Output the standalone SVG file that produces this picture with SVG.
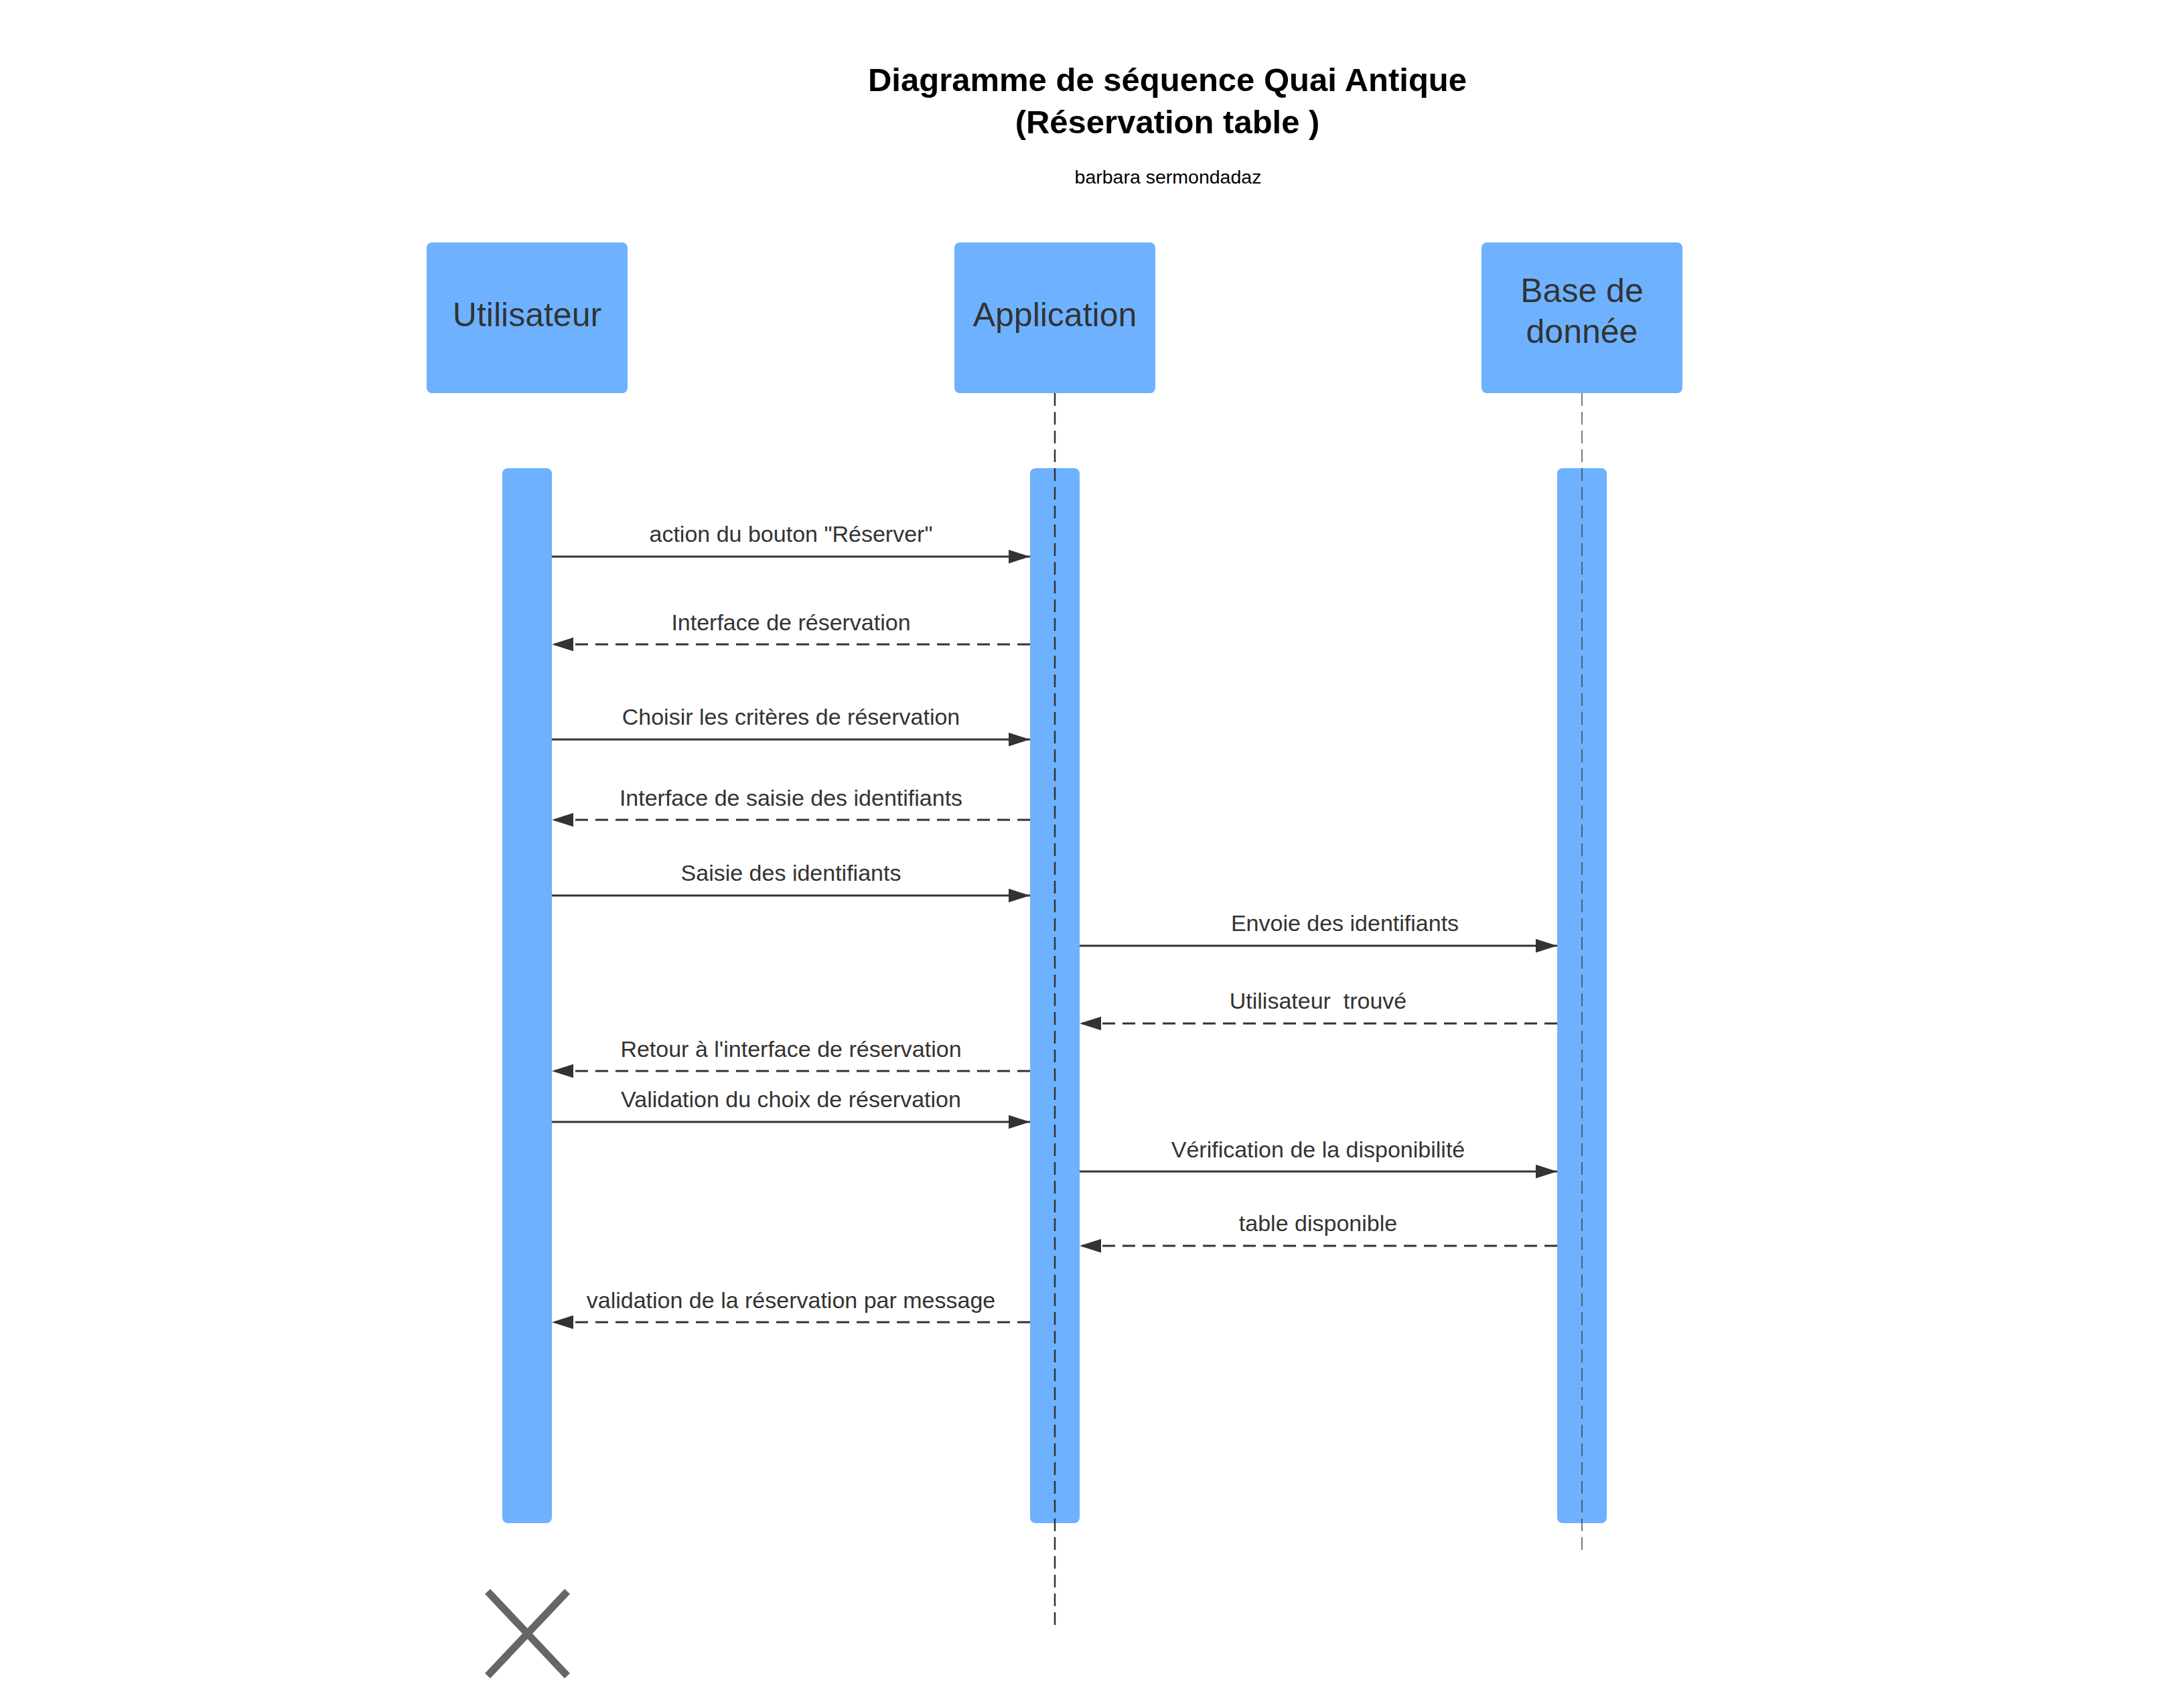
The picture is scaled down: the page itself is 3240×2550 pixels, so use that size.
<svg xmlns="http://www.w3.org/2000/svg" width="3240" height="2550" viewBox="0 0 3240 2550">
<style>
text{font-family:"Liberation Sans",Arial,sans-serif;}
.title{font-size:49px;font-weight:bold;fill:#000;text-anchor:middle;}
.sub{font-size:28.5px;fill:#000;text-anchor:middle;}
.box{fill:#6db1ff;}
.bar{fill:#6db1ff;}
.name{font-size:50px;fill:#333;text-anchor:middle;}
.lbl{font-size:34px;fill:#333;text-anchor:middle;}
.msg{stroke:#333;stroke-width:3;fill:none;marker-end:url(#ah);}
.ret{stroke-dasharray:19 11;}
.life{stroke:#333;fill:none;stroke-dasharray:19 9;}
</style>
<defs>
<marker id="ah" markerUnits="userSpaceOnUse" markerWidth="32" markerHeight="22" viewBox="0 0 31 20" refX="31" refY="10" orient="auto">
<path d="M0,0 L31,10 L0,20 Z" fill="#333"/>
</marker>
</defs>
<rect width="3240" height="2550" fill="#fff"/>
<g id="title">
<text class="title" x="1743" y="136">Diagramme de séquence Quai Antique</text>
<text class="title" x="1743" y="199">(Réservation table )</text>
<text class="sub" x="1744" y="274">barbara sermondadaz</text>
</g>
<g id="utilisateur">
<rect class="box" x="637" y="362" width="300" height="225" rx="8"/>
<text class="name" x="787" y="487">Utilisateur</text>
<rect class="bar" x="750" y="699" width="74" height="1575" rx="8"/>
</g>
<g id="application">
<rect class="box" x="1425" y="362" width="300" height="225" rx="8"/>
<text class="name" x="1575" y="487">Application</text>
<rect class="bar" x="1538" y="699" width="74" height="1575" rx="8"/>
<line class="life" x1="1575" y1="587" x2="1575" y2="2428" stroke-width="2.5"/>
</g>
<g id="base-de-donnee">
<rect class="box" x="2212" y="362" width="300" height="225" rx="8"/>
<text class="name" x="2362" y="451">Base de</text>
<text class="name" x="2362" y="512">donnée</text>
<rect class="bar" x="2325" y="699" width="74" height="1575" rx="8"/>
<line class="life" x1="2362" y1="587" x2="2362" y2="2316" stroke-width="1.3"/>
</g>
<g id="destruction">
<line x1="728" y1="2376" x2="847" y2="2502" stroke="#666" stroke-width="11"/>
<line x1="847" y1="2376" x2="728" y2="2502" stroke="#666" stroke-width="11"/>
</g>
<g id="connectors">
<line class="msg" x1="824" y1="831" x2="1538" y2="831"/>
<text class="lbl" x="1181" y="809">action du bouton "Réserver"</text>
<line class="msg ret" x1="1538" y1="962" x2="824" y2="962"/>
<text class="lbl" x="1181" y="941">Interface de réservation</text>
<line class="msg" x1="824" y1="1104" x2="1538" y2="1104"/>
<text class="lbl" x="1181" y="1082">Choisir les critères de réservation</text>
<line class="msg ret" x1="1538" y1="1224" x2="824" y2="1224"/>
<text class="lbl" x="1181" y="1203">Interface de saisie des identifiants</text>
<line class="msg" x1="824" y1="1337" x2="1538" y2="1337"/>
<text class="lbl" x="1181" y="1315">Saisie des identifiants</text>
<line class="msg" x1="1612" y1="1412" x2="2325" y2="1412"/>
<text class="lbl" x="2008" y="1390">Envoie des identifiants</text>
<line class="msg ret" x1="2325" y1="1528" x2="1612" y2="1528"/>
<text class="lbl" x="1968" y="1506" xml:space="preserve">Utilisateur  trouvé</text>
<line class="msg ret" x1="1538" y1="1599" x2="824" y2="1599"/>
<text class="lbl" x="1181" y="1578">Retour à l'interface de réservation</text>
<line class="msg" x1="824" y1="1675" x2="1538" y2="1675"/>
<text class="lbl" x="1181" y="1653">Validation du choix de réservation</text>
<line class="msg" x1="1612" y1="1749" x2="2325" y2="1749"/>
<text class="lbl" x="1968" y="1728">Vérification de la disponibilité</text>
<line class="msg ret" x1="2325" y1="1860" x2="1612" y2="1860"/>
<text class="lbl" x="1968" y="1838">table disponible</text>
<line class="msg ret" x1="1538" y1="1974" x2="824" y2="1974"/>
<text class="lbl" x="1181" y="1953">validation de la réservation par message</text>
</g>
</svg>
